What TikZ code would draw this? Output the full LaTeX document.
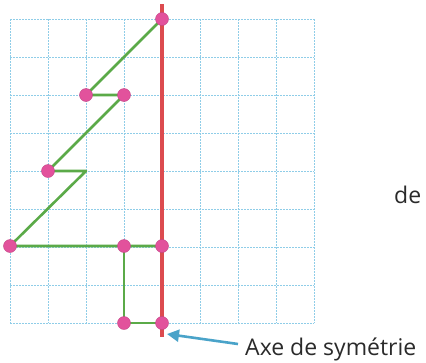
\documentclass[tikz,border=0pt]{standalone}
\usepackage{fontspec}
\setmainfont{Open Sans}
\usetikzlibrary{arrows.meta}
\definecolor{gridblue}{HTML}{8FCDE8}
\definecolor{axisred}{HTML}{DC4B4F}
\definecolor{figgreen}{HTML}{5BAA48}
\definecolor{dotpink}{HTML}{E2529C}
\definecolor{arrowblue}{HTML}{4AA3C9}
\definecolor{textgray}{HTML}{2A2A2A}
\tikzset{
  gridline/.style={gridblue, line width=0.8pt, dash pattern=on 2pt off 1pt},
  axisline/.style={axisred, line width=3.5pt},
  figline/.style={figgreen, line width=2.6pt, line join=round},
  pt/.style={circle, fill=dotpink, draw=dotpink!85!black, line width=0.4pt, inner sep=0pt, minimum size=13pt},
  lbl/.style={textgray, font=\fontsize{23}{28}\selectfont, inner sep=0pt},
  pointer/.style={arrowblue, line width=2.6pt, -{Triangle[length=12pt,width=12pt]}}
}
\begin{document}
\begin{tikzpicture}[x=1pt,y=-1pt]
\useasboundingbox (0,0) rectangle (426,362);
% grid
\foreach \i in {0,...,8} {
  \draw[gridline] (10+38*\i,19) -- (10+38*\i,323);
  \draw[gridline] (10,19+38*\i) -- (314,19+38*\i);
}
% axis
\coordinate (axtop) at (162,4);
\coordinate (axbot) at (162,337);
\draw[axisline] (axtop) -- (axbot);
% figure coordinates
\coordinate (p1) at (162,19);
\coordinate (p2) at (86,95);
\coordinate (p3) at (124,95);
\coordinate (p4) at (48,171);
\coordinate (p5) at (86,171);
\coordinate (p6) at (10,246);
\coordinate (p7) at (124,246);
\coordinate (p8) at (162,246);
\coordinate (p9) at (124,323);
\coordinate (p10) at (162,323);
\draw[figline] (p1) -- (p2) -- (p3) -- (p4) -- (p5) -- (p6) -- (p8);
\draw[figline] (p7) -- (p9) -- (p10);
% dots
\foreach \p in {p1,p2,p3,p4,p6,p7,p8,p9,p10} {
  \node[pt] (d\p) at (\p) {};
}
% labels
\node[lbl, anchor=base west] (axe) at (245,355) {Axe de symétrie};
\node[lbl, anchor=base west] (de) at (394,203) {de};
\coordinate (tail) at (238,344);
\draw[pointer] (tail) -- (167,334);
\end{tikzpicture}
\end{document}
